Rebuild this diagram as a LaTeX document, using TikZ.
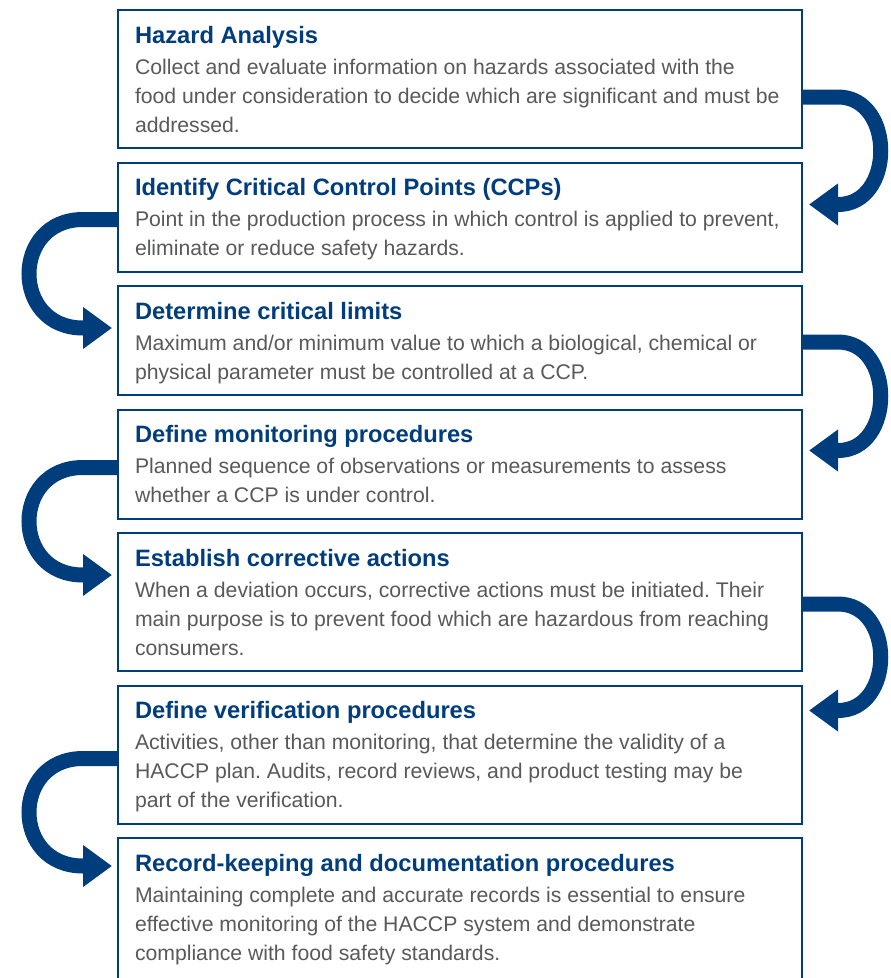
\documentclass[tikz,border=0pt]{standalone}
\usepackage{fontspec}
\setmainfont{Liberation Sans}
\usetikzlibrary{arrows.meta,positioning}
\definecolor{haccpblue}{RGB}{0,61,125}
\definecolor{haccpgray}{RGB}{88,89,91}
\newcommand{\steptitle}[1]{{\color{haccpblue}\bfseries\fontsize{23.7}{29}\selectfont #1}\\[2pt]}

\begin{document}
\begin{tikzpicture}[x=1pt, y=-1pt,
  stepbox/.style={draw=haccpblue, line width=2pt, fill=white, inner xsep=17pt, inner ysep=16pt, outer sep=0pt, text width=650pt, align=flush left, text height=17pt, text=haccpgray, font=\fontsize{21.2}{29}\selectfont\frenchspacing},
  twolines/.style={text depth=60pt},
  threelines/.style={text depth=89pt},
  flow/.style={-{Triangle[length=29pt, width=40pt]}, line width=15pt, haccpblue}
]
  \useasboundingbox (0,0) rectangle (891,978);
  \clip (0,0) rectangle (891,978);

  \node[stepbox, threelines, anchor=north west] (hazard) at (118,10) {\steptitle{Hazard Analysis}Collect and evaluate information on hazards associated with the\\ food under consideration to decide which are significant and must be\\ addressed.};
  \node[stepbox, twolines, below=14.5pt of hazard] (ccp) {\steptitle{Identify Critical Control Points (CCPs)}Point in the production process in which control is applied to prevent,\\ eliminate or reduce safety hazards.};
  \node[stepbox, twolines, below=14.5pt of ccp] (limits) {\steptitle{Determine critical limits}Maximum and/or minimum value to which a biological, chemical or\\ physical parameter must be controlled at a CCP.};
  \node[stepbox, twolines, below=14.5pt of limits] (monitoring) {\steptitle{Define monitoring procedures}Planned sequence of observations or measurements to assess\\ whether a CCP is under control.};
  \node[stepbox, threelines, below=14.5pt of monitoring] (corrective) {\steptitle{Establish corrective actions}When a deviation occurs, corrective actions must be initiated. Their\\ main purpose is to prevent food which are hazardous from reaching\\ consumers.};
  \node[stepbox, threelines, below=14.5pt of corrective] (verification) {\steptitle{Define verification procedures}Activities, other than monitoring, that determine the validity of a\\ HACCP plan. Audits, record reviews, and product testing may be\\ part of the verification.};
  \node[stepbox, text depth=120pt, below=14.5pt of verification] (records) {\steptitle{Record-keeping and documentation procedures}Maintaining complete and accurate records is essential to ensure\\ effective monitoring of the HACCP system and demonstrate\\ compliance with food safety standards.};

  % right hand turns
  \draw[flow] ([yshift=51pt]hazard.south east) -- ++(36,0) .. controls +(57,0) and +(57,0) .. ([xshift=36pt,yshift=-42pt]ccp.north east) -- ([xshift=7pt,yshift=-42pt]ccp.north east);
  \draw[flow] ([yshift=53pt]limits.south east) -- ++(36,0) .. controls +(57,0) and +(57,0) .. ([xshift=36pt,yshift=-41pt]monitoring.north east) -- ([xshift=7pt,yshift=-41pt]monitoring.north east);
  \draw[flow] ([yshift=67pt]corrective.south east) -- ++(36,0) .. controls +(57,0) and +(57,0) .. ([xshift=36pt,yshift=-25pt]verification.north east) -- ([xshift=7pt,yshift=-25pt]verification.north east);

  % left hand turns
  \draw[flow] ([yshift=52pt]ccp.south west) -- ++(-35,0) .. controls +(-72,0) and +(-72,0) .. ([xshift=-35pt,yshift=-42pt]limits.north west) -- ([xshift=-6pt,yshift=-42pt]limits.north west);
  \draw[flow] ([yshift=51pt]monitoring.south west) -- ++(-35,0) .. controls +(-72,0) and +(-72,0) .. ([xshift=-35pt,yshift=-42pt]corrective.north west) -- ([xshift=-6pt,yshift=-42pt]corrective.north west);
  \draw[flow] ([yshift=65pt]verification.south west) -- ++(-35,0) .. controls +(-72,0) and +(-72,0) .. ([xshift=-35pt,yshift=-28pt]records.north west) -- ([xshift=-6pt,yshift=-28pt]records.north west);
\end{tikzpicture}
\end{document}
